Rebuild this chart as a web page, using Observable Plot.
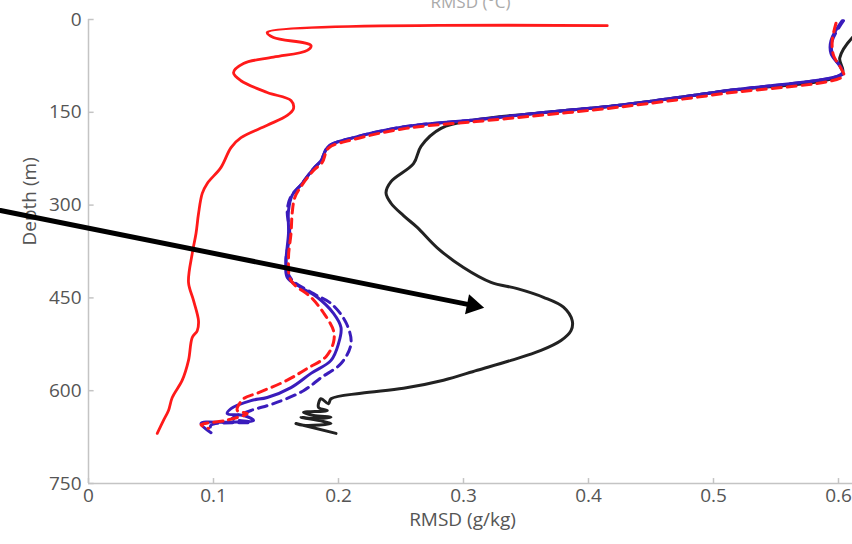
<!DOCTYPE html>
<html>
<head>
<meta charset="utf-8">
<script src="https://cdn.jsdelivr.net/npm/d3@7"></script>
<script src="https://cdn.jsdelivr.net/npm/@observablehq/plot@0.6"></script>
<style>
  html, body { margin: 0; padding: 0; background: #fff; overflow: hidden; }
</style>
</head>
<body>
<div id="chart"></div>
<script>
// ---- data (RMSD in g/kg, depth in m) ----
const redSolidX     = [0.415,0.143,0.148,0.178,0.175,0.148,0.124,0.116,0.122,0.143,0.162,0.164,0.159,0.143,0.122,0.114,0.106,0.095,0.091,0.088,0.086,0.083,0.080,0.084,0.088,0.087,0.083,0.080,0.075,0.067,0.064,0.060,0.055];
const redSolidDepth = [10,21,29,42,50,61,71,86,99,118,131,144,155,171,191,207,239,265,281,314,346,378,425,454,487,503,514,551,583,611,632,648,669];

const blueSolidX     = [0.603,0.594,0.594,0.602,0.603,0.507,0.423,0.366,0.310,0.254,0.212,0.192,0.186,0.180,0.170,0.163,0.160,0.160,0.158,0.159,0.170,0.183,0.196,0.202,0.200,0.194,0.178,0.162,0.143,0.130,0.114,0.111,0.124,0.132,0.111,0.090,0.098];
const blueSolidDepth = [2,34,55,78,87,116,139,150,162,173,191,205,228,241,267,284,309,346,390,417,433,449,475,498,524,551,572,595,611,616,629,637,640,648,651,653,668];

const redDashX     = [0.598,0.595,0.596,0.602,0.604,0.507,0.423,0.366,0.310,0.254,0.212,0.192,0.187,0.180,0.170,0.165,0.163,0.162,0.160,0.162,0.178,0.188,0.196,0.196,0.190,0.175,0.159,0.135,0.124,0.119,0.127,0.110,0.090,0.096];
const redDashDepth = [6,34,58,79,91,120,142,154,165,176,194,208,231,244,270,288,312,346,386,422,449,474,503,522,545,564,583,604,613,632,637,648,655,661];

const blueDashX     = [0.604,0.595,0.595,0.602,0.604,0.507,0.423,0.366,0.310,0.254,0.212,0.192,0.186,0.180,0.170,0.162,0.159,0.161,0.158,0.162,0.180,0.194,0.206,0.210,0.202,0.186,0.172,0.148,0.130,0.115,0.130,0.098,0.098];
const blueDashDepth = [2,34,55,78,87,116,139,150,162,173,191,205,228,241,267,286,309,346,393,419,443,459,490,524,556,579,600,621,632,645,651,656,668];

const blackX     = [0.625,0.613,0.601,0.603,0.508,0.423,0.367,0.310,0.282,0.266,0.260,0.242,0.238,0.242,0.252,0.263,0.279,0.300,0.322,0.343,0.364,0.380,0.387,0.386,0.378,0.362,0.338,0.311,0.284,0.252,0.218,0.194,0.192,0.186,0.184,0.191,0.172,0.180,0.194,0.179,0.170,0.194,0.172,0.166,0.198];
const blackDepth = [8,25,62,87,116,139,150,162,176,205,233,262,280,297,317,336,369,401,425,435,449,465,487,503,519,535,551,567,583,596,604,613,621,613,627,632,635,640,643,645,643,653,656,653,669];

// annotation arrow (start, head)
const arrowX     = [-0.0704, 0.3074];
const arrowDepth = [308.7, 462.1];

// axes
const xTicks = [0, 0.1, 0.2, 0.3, 0.4, 0.5, 0.6];
const xTickLabels = ["0", "0.1", "0.2", "0.3", "0.4", "0.5", "0.6"];
const yTicks = [0, 150, 300, 450, 600, 750];
const xLabel = "RMSD (g/kg)";
const yLabel = "Depth (m)";
const titleText = "RMSD (°C)";

const toRows = (xs, ds) => xs.map((x, i) => ({x, d: ds[i]}));

const gray = "#c4c4c4";
const textGray = "#555555";
const font = "'Open Sans', 'Noto Sans', sans-serif";

const chart = Plot.plot({
  width: 852,
  height: 544,
  marginLeft: 88,
  marginRight: 0,
  marginTop: 19,
  marginBottom: 61,
  style: {fontFamily: font, background: "#fff", overflow: "hidden"},
  x: {domain: [0, 0.6112]},
  y: {domain: [0, 750], reverse: true},
  marks: [
    Plot.axisX({ticks: xTicks, tickFormat: d => xTickLabels[xTicks.indexOf(d)], tickSize: 0, tickPadding: 5, fontSize: 19, fill: textGray, label: null}),
    Plot.axisY({ticks: yTicks, tickSize: 0, tickPadding: 7, fontSize: 19, fill: textGray, label: null}),
    Plot.ruleX([0], {y1: 0, y2: 750, stroke: gray, strokeWidth: 1.5}),
    Plot.ruleY([750], {x1: 0, x2: 0.6112, stroke: gray, strokeWidth: 1.5}),
    Plot.ruleY(yTicks, {x1: 0, x2: 0.0045, stroke: gray, strokeWidth: 1.5}),
    Plot.ruleX(xTicks, {y1: 750, y2: 742, stroke: gray, strokeWidth: 1.5}),
    Plot.text([xLabel], {frameAnchor: "bottom", dy: 42, dx: -8, fontSize: 19, fill: textGray}),
    Plot.text([yLabel], {frameAnchor: "left", rotate: -90, dx: -59, dy: -6, fontSize: 19, fill: textGray}),
    Plot.text([titleText], {frameAnchor: "top", lineAnchor: "bottom", dy: -12, fontSize: 17, fill: "#aaa"}),
    Plot.line(toRows(redSolidX, redSolidDepth), {x: "x", y: "d", stroke: "#ff1a1a", strokeWidth: 2.8, curve: "catmull-rom"}),
    Plot.line(toRows(blackX, blackDepth), {x: "x", y: "d", stroke: "#222", strokeWidth: 3, curve: "catmull-rom"}),
    Plot.line(toRows(blueDashX, blueDashDepth), {x: "x", y: "d", stroke: "#3a1cbc", strokeWidth: 3, strokeDasharray: "9,6", curve: "catmull-rom"}),
    Plot.line(toRows(blueSolidX, blueSolidDepth), {x: "x", y: "d", stroke: "#3a1cbc", strokeWidth: 3, curve: "catmull-rom"}),
    Plot.line(toRows(redDashX, redDashDepth), {x: "x", y: "d", stroke: "#ff1a1a", strokeWidth: 3, strokeDasharray: "9,6", curve: "catmull-rom"}),
    Plot.line(toRows(arrowX, arrowDepth), {x: "x", y: "d", stroke: "#000", strokeWidth: 5}),
    Plot.dot([{x: arrowX[1], d: arrowDepth[1]}], {x: "x", y: "d", symbol: "triangle", r: 7.5, fill: "#000", stroke: "none", rotate: 101.4})
  ]
});
document.getElementById("chart").appendChild(chart);
</script>
</body>
</html>
